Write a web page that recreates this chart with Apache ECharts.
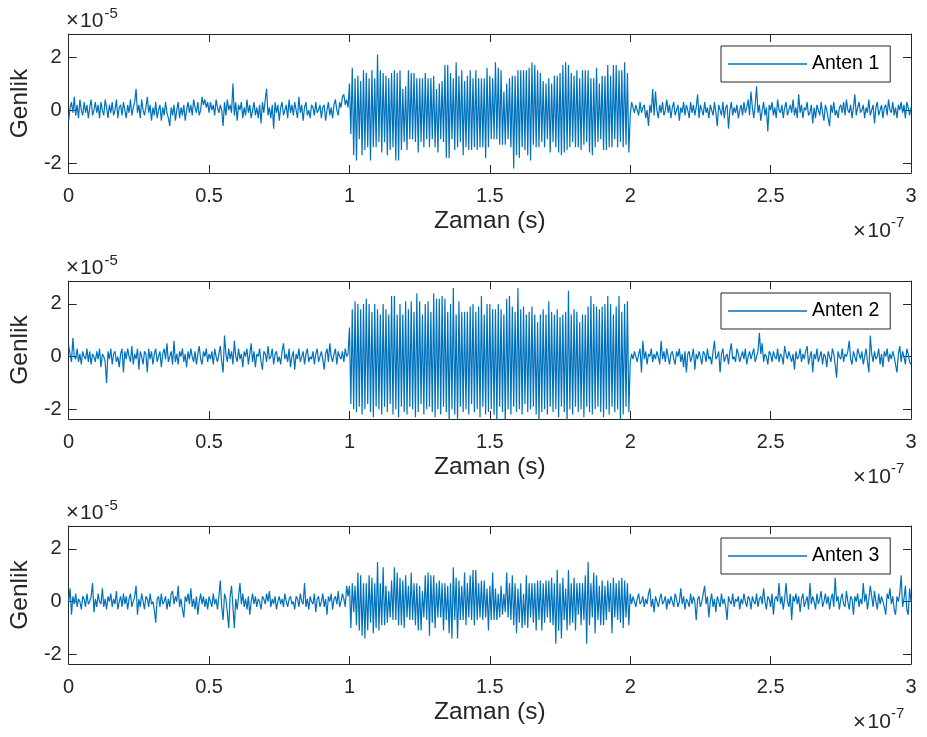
<!DOCTYPE html>
<html>
<head>
<meta charset="utf-8">
<script src="https://cdn.jsdelivr.net/npm/echarts@6/dist/echarts.min.js"></script>
<style>
  html, body { margin: 0; padding: 0; background: #fff; }
  #chart { width: 927px; height: 737px; }
</style>
</head>
<body>
<div id="chart"></div>
<script>
// ---- DATA (amplitudes in tenths of the 1e-5 axis unit; time axis in units of 1e-7 s) ----
const VALUE_UNIT = 0.1;
const seriesNames = ['Anten 1', 'Anten 2', 'Anten 3'];
const xTickLabels = ['0', '0.5', '1', '1.5', '2', '2.5', '3'];
const yTickValues = [-2, 0, 2];
const yTickLabels = ['-2', '0', '2'];
const xLabel = 'Zaman (s)';
const yLabel = 'Genlik';

// Anten 1 : 0 .. 1e-7 (noise), 1e-7 .. 2e-7 (burst), 2e-7 .. 3e-7 (noise)
const anten1Pre = [
  -4,1,3,-1,5,-2,2,-3,4,0,-2,3,-1,2,-3,1,4,-2,0,3,
  -1,2,-3,3,0,-2,4,1,-3,2,-1,3,-2,0,4,-3,1,2,-2,3,
  0,-3,2,-1,4,-2,1,3,8,-1,2,-3,4,0,-2,1,5,-1,2,-4,
  1,-2,3,-3,0,2,-4,1,-2,3,-1,-3,-6,1,-2,2,-4,0,3,-3,
  1,-2,2,-4,0,3,-1,2,-2,4,1,-1,3,-2,0,5,2,4,1,3,
  -1,3,0,2,-2,4,1,-1,2,0,-6,3,-2,4,0,2,-1,10,-2,3,
  -4,2,0,3,-3,1,-2,4,-1,2,-3,0,3,-2,1,-3,2,-5,3,-1,
  4,8,-2,1,-3,2,-7,3,-1,2,-4,1,3,-2,0,2,-3,4,-1,2,
  -2,3,0,-3,5,-1,2,-4,1,3,-2,0,-3,2,1,-2,3,-1,0,2,
  -3,1,2,-4,0,3,-2,1,-3,2,4,0,-2,3,1,5,6,2,4,1
];
const anten1Burst = [
  10,-9,16,-17,12,-19,13,-11,11,-17,15,-15,14,-14,12,-19,15,-14,12,-14,
  21,-12,15,-16,14,-12,13,-17,12,-15,14,-14,15,-19,14,-19,15,-15,8,-12,
  9,-15,15,-11,14,-11,14,-12,12,-16,12,-12,12,-14,14,-11,12,-14,12,-11,
  13,-14,8,-16,10,-11,11,-12,17,-18,17,-18,14,-11,12,-15,18,-14,13,-12,
  15,-17,11,-14,13,-15,15,-15,12,-14,15,-15,12,-14,12,-14,12,-18,16,-14,
  13,-11,12,-11,18,-11,16,-13,15,-13,7,-13,10,-11,12,-14,13,-22,13,-17,
  15,-18,15,-14,15,-15,15,-17,16,-19,18,-13,17,-14,15,-14,14,-12,11,-14,
  10,-11,12,-16,10,-12,13,-14,13,-16,14,-17,17,-16,18,-15,17,-14,14,-12,
  13,-14,15,-14,12,-15,15,-13,15,-12,15,-16,12,-17,12,-14,16,-12,10,-11,
  13,-15,13,-15,17,-14,13,-14,17,-11,17,-14,15,-12,15,-14,18,-13,14,-16
];
const anten1Post = [
  -2,3,1,-1,2,0,-2,3,-1,1,2,-3,0,-6,2,-1,8,-2,7,0,
  -3,2,-1,3,-2,0,4,-1,2,-3,1,3,-2,0,2,-4,1,-1,3,-2,
  2,0,-3,3,-1,2,-2,1,6,-3,2,0,-2,3,-1,1,-3,2,0,-2,
  3,-1,-6,2,0,-2,3,-3,1,2,-7,0,3,-2,1,-1,2,-3,0,2,
  -2,3,-1,1,4,-2,7,1,-3,2,9,-1,2,-4,0,3,-2,1,-8,2,
  0,3,-2,1,-3,4,0,-1,2,-3,1,3,-2,0,2,-1,4,-2,1,-3,
  6,-1,2,-3,1,0,3,-2,-1,2,-5,1,-3,2,0,-2,3,-1,-4,2,
  0,-3,-6,2,-1,3,-2,0,-3,1,2,-1,3,-2,4,0,-1,2,-3,1,
  6,-2,1,3,-1,0,2,-3,1,-1,4,-2,0,2,-5,1,3,-2,0,2,
  -3,1,2,-2,4,0,-1,3,-2,1,-3,2,0,3,-1,2,-3,3,1,-2,1
];

// Anten 2
const anten2Pre = [
  4,1,-2,7,0,-1,3,-2,1,-3,2,0,-1,3,-2,2,-3,1,0,-2,
  2,-1,3,-4,1,0,-2,-10,2,-1,3,-3,1,2,-2,0,-4,1,3,-6,
  2,-1,3,0,-2,4,-3,1,-1,3,-5,2,0,-3,2,1,-6,3,-1,2,
  -3,1,3,-2,0,2,-4,1,3,-1,5,-2,0,2,-3,6,-2,1,-3,2,
  0,3,-2,1,-4,2,-1,3,0,-2,2,-3,1,4,-1,-3,2,0,3,-2,
  1,-1,2,-3,3,0,-2,1,4,-2,-6,8,1,-2,3,-1,2,-3,6,0,
  -2,3,-1,1,-4,2,0,3,-3,1,5,-2,2,-4,1,0,3,-2,-5,2,
  1,-2,4,-1,0,3,-3,1,2,-2,0,-3,2,5,-1,1,-2,3,-4,0,
  2,-5,1,-1,3,-2,0,2,-3,1,3,-2,0,-1,2,-3,1,3,-2,0,
  2,-1,-5,1,3,-2,5,0,-2,1,3,-3,2,0,-1,2,-2,3,0,1
];
const anten2Burst = [
  11,-18,18,-20,21,-21,20,-19,18,-22,20,-20,22,-18,20,-21,17,-23,20,-19,
  18,-20,16,-22,20,-19,18,-21,16,-18,23,-22,23,-20,16,-23,20,-19,16,-21,
  21,-22,18,-19,21,-20,17,-23,24,-21,21,-18,16,-22,20,-20,21,-19,17,-21,
  24,-23,22,-20,22,-22,23,-19,22,-21,17,-25,20,-20,26,-22,16,-25,21,-19,
  17,-21,17,-20,17,-22,19,-18,20,-21,17,-20,19,-23,23,-19,16,-22,20,-21,
  20,-20,18,-22,18,-25,20,-19,18,-21,16,-26,22,-20,23,-22,19,-19,17,-21,
  26,-20,18,-22,19,-18,16,-21,17,-20,19,-19,16,-22,13,-25,16,-21,18,-20,
  16,-22,21,-19,17,-21,16,-20,18,-23,15,-19,16,-21,17,-26,25,-20,16,-22,
  18,-19,17,-21,13,-20,16,-23,16,-19,19,-21,23,-22,20,-20,19,-19,18,-21,
  19,-23,20,-20,23,-22,20,-19,16,-21,19,-20,23,-25,17,-22,20,-19,21,-21
];
const anten2Post = [
  -2,1,-1,2,0,-2,1,3,-6,6,-1,2,-3,1,0,3,-2,1,-1,2,
  0,-3,6,-1,2,-2,3,0,-3,1,2,-1,-3,2,0,3,-2,1,-4,2,
  -6,1,2,-2,0,3,-5,1,-1,2,0,-3,2,1,-2,3,-1,0,-3,2,
  6,-1,0,2,-6,1,3,-2,0,1,-3,2,5,-1,0,-2,3,1,-2,0,
  2,-1,3,-3,0,2,-1,1,3,-2,0,2,9,1,5,-2,1,0,-3,2,
  1,-2,2,0,-1,3,-2,1,0,-3,4,1,-1,2,0,-2,1,-5,2,-1,
  0,3,-2,1,-1,2,4,-3,0,2,-6,1,-1,3,-2,0,2,-3,1,0,
  -4,2,0,-2,3,1,-3,-8,2,0,-1,3,-2,1,0,2,6,-1,-3,2,
  0,-2,3,1,-1,2,-3,0,3,-2,-6,8,1,-2,2,-1,0,3,-3,1,
  -4,2,0,3,-2,1,-1,2,0,-3,-6,1,4,-2,2,0,-3,3,1,-2,-3
];

// Anten 3
const anten3Pre = [
  0,5,-5,2,-1,3,-2,1,0,-3,2,1,-2,3,-1,0,2,7,-4,1,
  -2,3,0,-1,5,-2,1,-3,2,0,3,-2,1,-1,4,-3,0,2,-2,3,
  -1,2,-3,1,3,-2,0,2,6,-5,1,-2,3,0,-3,2,1,-2,3,-1,
  0,-3,-8,1,2,-2,3,-1,0,2,-3,1,-2,3,4,-1,2,0,6,-2,
  1,-3,-6,2,0,3,-1,5,-2,1,-3,2,-5,0,3,-1,2,-2,1,-3,
  2,0,-2,3,-1,1,-3,2,8,-2,-7,3,1,-4,-10,2,6,-2,-10,1,
  -3,2,7,-1,3,-2,1,-3,2,-5,0,3,-1,2,-2,1,0,-3,2,1,
  -1,3,0,4,-2,1,-1,2,-3,0,2,-1,1,-2,3,0,-2,1,2,-1,
  0,-3,2,1,-2,3,0,-1,7,-2,1,-3,2,0,-1,3,-4,1,2,-2,
  0,3,-2,1,-5,2,0,3,-3,1,2,-1,4,-2,0,3,1,-2,6,2
];
const anten3Burst = [
  6,-10,7,-4,6,-9,11,-11,10,-13,7,-14,7,-11,10,-8,9,-12,7,-10,
  15,-11,7,-9,13,-9,6,-8,4,-6,8,-7,13,-7,11,-9,9,-9,8,-10,
  10,-6,6,-7,11,-7,7,-9,7,-11,6,-11,4,-6,10,-7,11,-13,10,-8,
  10,-10,7,-6,8,-6,7,-11,7,-7,6,-12,7,-14,13,-7,9,-14,8,-7,
  6,-7,11,-9,7,-6,10,-7,12,-9,12,-7,7,-6,8,-7,8,-6,5,-11,
  6,-7,11,-7,5,-7,3,-6,6,-5,3,-4,11,-6,7,-7,10,-9,7,-12,
  5,-8,7,-10,3,-9,10,-10,7,-6,7,-8,7,-11,8,-7,8,-11,7,-8,
  8,-6,8,-8,9,-9,7,-16,12,-11,7,-14,9,-7,5,-11,12,-9,7,-8,
  9,-11,7,-5,7,-9,7,-7,10,-16,15,-9,7,-6,11,-12,10,-7,6,-9,
  8,-9,6,-7,8,-4,7,-12,9,-6,7,-7,8,-8,9,-10,8,-6,7,-9
];
const anten3Post = [
  3,-1,2,0,-2,1,3,-1,0,2,-2,1,-1,3,5,-2,1,-4,2,0,
  -2,1,3,-1,0,2,-3,1,-1,2,0,-2,3,1,-2,0,5,-1,2,-3,
  1,0,-2,3,-1,2,0,-7,1,2,-2,0,3,6,-1,2,-6,0,3,-2,
  1,-4,2,0,-2,3,-1,1,-2,-7,2,0,-1,3,-2,1,0,2,-3,1,
  -1,3,0,-2,2,1,-3,2,0,-1,3,-2,1,2,-1,5,0,-3,2,1,
  -2,3,-5,1,2,0,7,-1,2,-3,1,7,0,-2,3,-7,2,0,3,-1,
  2,-4,1,3,-2,0,2,-3,7,-1,2,0,-3,3,-1,1,4,-2,0,3,
  -1,2,-3,1,3,-2,9,0,2,-3,1,3,-1,-2,4,0,-3,2,1,-5,
  2,0,3,-2,1,-1,7,0,3,-3,1,6,2,-2,4,0,-3,3,-1,2,
  0,-2,-5,3,1,5,-1,2,-3,-5,2,0,3,10,-2,1,6,-3,-5,5,0
];

// ---- BUILD ----
function buildSeries(pre, burst, post) {
  const pts = [];
  pre.forEach((v, i) => pts.push([i / pre.length, v * VALUE_UNIT]));
  burst.forEach((v, i) => pts.push([1 + i / burst.length, v * VALUE_UNIT]));
  post.forEach((v, i) => pts.push([2 + i / (post.length - 1), v * VALUE_UNIT]));
  return pts;
}
const allData = [
  buildSeries(anten1Pre, anten1Burst, anten1Post),
  buildSeries(anten2Pre, anten2Burst, anten2Post),
  buildSeries(anten3Pre, anten3Burst, anten3Post)
];

const FONT = '"Liberation Sans", Arial, Helvetica, sans-serif';
const AX = '#262626';
const LINE = '#0072BD';
const gridTops = [34, 281, 526];
const gridHeights = [139, 138, 138];
const Y_MIN = -2.37, Y_MAX = 2.87;

const grids = [], xAxes = [], yAxes = [], series = [], legends = [], graphics = [];
for (let g = 0; g < 3; g++) {
  grids.push({ left: 65, top: gridTops[g], width: 846, height: gridHeights[g], containLabel: false });
  const axisLine = { show: true, onZero: false, lineStyle: { color: AX, width: 1 } };
  xAxes.push({
    gridIndex: g, type: 'value', min: 0, max: 3, interval: 0.5, position: 'bottom',
    axisLine, axisTick: { show: true, inside: true, length: 8, lineStyle: { color: AX } },
    splitLine: { show: false },
    axisLabel: { color: AX, fontSize: 20, fontFamily: FONT, margin: 13,
      formatter: v => xTickLabels[Math.round(v / 0.5)] },
    name: xLabel, nameLocation: 'middle', nameGap: 36,
    nameTextStyle: { color: AX, fontSize: 24.5, fontFamily: FONT }
  });
  xAxes.push({
    gridIndex: g, type: 'value', min: 0, max: 3, interval: 0.5, position: 'top',
    axisLine, axisTick: { show: true, inside: true, length: 8, lineStyle: { color: AX } },
    splitLine: { show: false }, axisLabel: { show: false }
  });
  yAxes.push({
    gridIndex: g, type: 'value', min: Y_MIN, max: Y_MAX, position: 'left',
    axisLine, axisTick: { show: true, inside: true, length: 8, lineStyle: { color: AX }, customValues: yTickValues },
    splitLine: { show: false },
    axisLabel: { color: AX, fontSize: 20, fontFamily: FONT, margin: 7, customValues: yTickValues,
      formatter: v => yTickLabels[yTickValues.indexOf(Math.round(v))] },
    name: yLabel, nameLocation: 'middle', nameGap: 32,
    nameTextStyle: { color: AX, fontSize: 24.5, fontFamily: FONT }
  });
  yAxes.push({
    gridIndex: g, type: 'value', min: Y_MIN, max: Y_MAX, position: 'right',
    axisLine, axisTick: { show: true, inside: true, length: 8, lineStyle: { color: AX }, customValues: yTickValues },
    splitLine: { show: false }, axisLabel: { show: false }
  });
  series.push({
    name: seriesNames[g], type: 'line', xAxisIndex: 2 * g, yAxisIndex: 2 * g,
    data: allData[g], showSymbol: false, symbol: 'none', clip: true,
    lineStyle: { color: LINE, width: 1.2 }, itemStyle: { color: LINE },
    animation: false
  });
  legends.push({
    data: [seriesNames[g]], left: 721, top: gridTops[g] + 12, orient: 'horizontal',
    padding: [8, 11, 8, 7], itemWidth: 79, itemHeight: 1.5, icon: 'rect', itemGap: 0,
    borderColor: AX, borderWidth: 1, backgroundColor: '#fff', selectedMode: false,
    textStyle: { color: '#000', fontSize: 19.5, fontFamily: FONT }
  });
  const dt = gridTops[g] - 34;
  const db = (gridTops[g] + gridHeights[g]) - 173;
  const txt = (x, y, s, size) => ({ type: 'text', x, y, silent: true,
    style: { text: s, fontSize: size, fontFamily: FONT, fill: AX, align: 'left', verticalAlign: 'middle' } });
  graphics.push(txt(66, 20.8 + dt, '×', 22));
  graphics.push(txt(80, 20.9 + dt, '10', 21));
  graphics.push(txt(104.5, 13.5 + dt, '-5', 15));
  graphics.push(txt(853, 231.7 + db, '×', 22));
  graphics.push(txt(867.5, 231.3 + db, '10', 21));
  graphics.push(txt(891, 222.5 + db, '-7', 15));
}

const chart = echarts.init(document.getElementById('chart'), null, { renderer: 'canvas' });
chart.setOption({
  animation: false,
  backgroundColor: '#fff',
  grid: grids, xAxis: xAxes, yAxis: yAxes, series, legend: legends, graphic: graphics
});
</script>
</body>
</html>
